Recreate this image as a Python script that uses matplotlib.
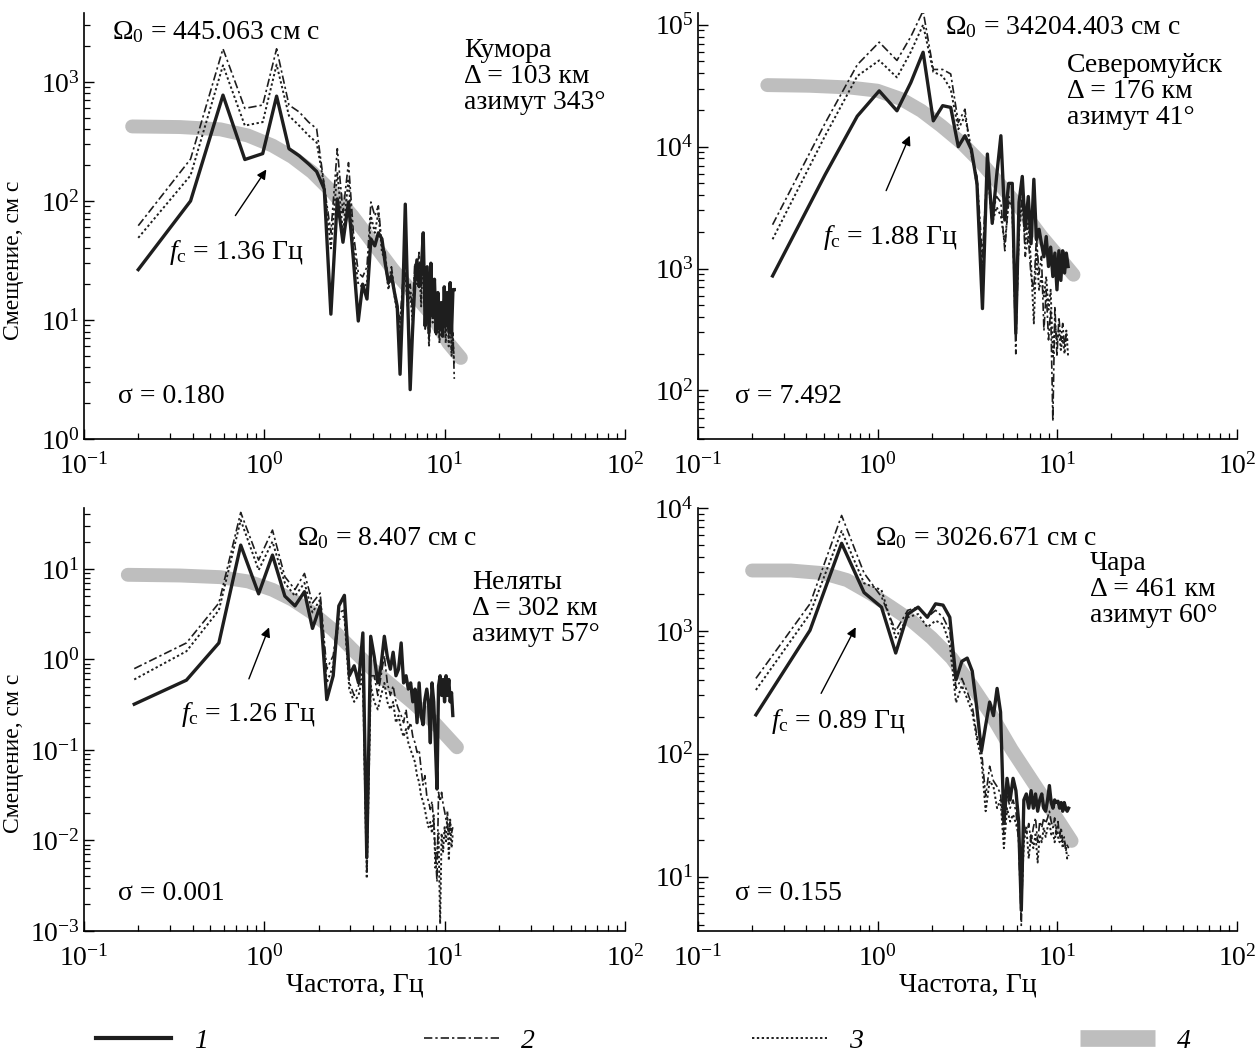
# спектры смещения для четырёх станций + модельная кривая
import matplotlib.pyplot as plt
from matplotlib.lines import Line2D

plt.rcParams['font.family'] = ['Liberation Serif', 'DejaVu Serif']
plt.rcParams['mathtext.fontset'] = 'custom'
plt.rcParams['mathtext.rm'] = 'Liberation Serif'
plt.rcParams['mathtext.it'] = 'Liberation Serif:italic'
plt.rcParams['mathtext.bf'] = 'Liberation Serif:bold'

# ---------- Кумора ----------
freq_kum = [0.20, 0.39, 0.59, 0.78, 0.98, 1.17, 1.37, 1.56, 1.76, 1.95,
            2.15, 2.34, 2.54, 2.73, 2.93, 3.12, 3.32, 3.51, 3.71, 3.90,
            4.10, 4.29, 4.49, 4.68, 4.88, 5.07, 5.27, 5.46, 5.66, 5.85,
            6.05, 6.24, 6.44, 6.63, 6.83, 7.02, 7.22, 7.41, 7.61, 7.80,
            8.00, 8.19, 8.39, 8.58, 8.78, 8.97, 9.17, 9.36, 9.56, 9.75,
            9.95, 10.14, 10.34, 10.53, 10.73, 10.92, 11.12, 11.31]
kum_1 = [26.5, 100, 775, 223, 250, 760, 275, 240, 205, 177,
         126, 11.2, 104, 45, 98, 32, 9.8, 20, 15, 48,
         42, 54, 48, 30, 20.6, 23.6, 17, 13, 3.5, 14,
         94, 15, 2.6, 7.8, 20, 32, 19, 25, 54, 8.9,
         28, 7.8, 30, 10.8, 22, 7.8, 17, 8.4, 14, 7.3,
         19, 8.9, 17, 8.4, 20.6, 7.8, 18, 18]
kum_2 = [62, 225, 1900, 600, 640, 1900, 640, 560, 460, 405,
         134, 54, 275, 80, 210, 54, 25, 23, 28, 98,
         75, 91, 42, 37, 20, 28, 18, 13, 10, 20,
         32, 15, 20, 12, 30, 25, 37, 15, 54, 10.8,
         23, 6.9, 20, 11.5, 17, 8.9, 15, 7.3, 13, 9.5,
         15, 7.8, 17, 6.9, 15, 5.6, 7.8, 3.2]
kum_3 = [49, 164, 1380, 430, 460, 1400, 520, 430, 355, 310,
         134, 40, 175, 54, 154, 40, 20, 19, 20, 75,
         54, 80, 37, 32, 18, 25, 16, 11.5, 8.4, 17,
         25, 13, 17, 10, 25, 20, 30, 13, 42, 8.4,
         19, 6, 17, 9.5, 15, 7.3, 13, 6.4, 10.8, 7.8,
         13, 6.4, 15, 6, 12, 5, 6.9, 4.1]
kum_model_f = [0.185, 0.34, 0.57, 0.81, 1.11, 1.43, 1.84, 2.39, 3.08, 3.98,
               5.14, 6.64, 8.58, 10.5, 12.3]
kum_model = [423, 418, 400, 355, 292, 234, 175, 118, 75, 45,
             26.8, 17, 10.8, 6.4, 4.8]

# ---------- Северомуйск ----------
freq_sev = [0.26, 0.51, 0.77, 1.02, 1.28, 1.53, 1.79, 2.04, 2.30, 2.55,
            2.81, 3.06, 3.32, 3.57, 3.83, 4.08, 4.34, 4.59, 4.85, 5.10,
            5.36, 5.61, 5.87, 6.12, 6.38, 6.63, 6.89, 7.14, 7.40, 7.65,
            7.91, 8.16, 8.42, 8.67, 8.93, 9.18, 9.44, 9.69, 9.95, 10.20,
            10.46, 10.71, 10.97, 11.22, 11.48]
sev_1 = [870, 5900, 17800, 28700, 19700, 33600, 59500, 16300, 21700, 21000,
         10000, 12300, 9500, 5000, 470, 8700, 2350, 5700, 12300, 2500,
         5000, 5000, 295, 3500, 5700, 2100, 3900, 1600, 5400, 1730,
         2100, 1600, 1250, 1830, 1040, 1500, 860, 1340, 670, 1400,
         800, 1400, 920, 1340, 1040]
sev_2 = [2290, 15600, 47000, 72000, 51000, 80000, 130000, 43000, 43000, 39500,
         15800, 20300, 8400, 5700, 1260, 7400, 2700, 3900, 3500, 1400,
         3900, 3500, 200, 2350, 3900, 1260, 1830, 860, 670, 1830,
         900, 1260, 310, 670, 260, 460, 56, 490, 190, 400,
         260, 355, 230, 290, 245]
sev_3 = [1740, 12300, 38000, 51000, 37000, 60000, 100000, 41000, 38000, 29500,
         13900, 17900, 9500, 4700, 910, 6500, 2350, 3200, 2700, 1600,
         3600, 3200, 355, 2000, 3600, 1600, 2350, 1100, 355, 1430,
         670, 860, 590, 860, 460, 670, 190, 355, 260, 310,
         215, 275, 200, 310, 190]
sev_model_f = [0.243, 0.417, 0.695, 0.995, 1.35, 1.75, 2.26, 2.92, 3.77, 4.88,
               6.3, 8.15, 10.5, 12.3]
sev_model = [32000, 31600, 30600, 28800, 24600, 19700, 14800, 10800, 7380, 4740,
             3050, 1840, 1180, 890]

# ---------- Неляты ----------
freq_nel = [0.19, 0.37, 0.56, 0.74, 0.93, 1.11, 1.30, 1.48, 1.67, 1.85,
            2.04, 2.22, 2.41, 2.59, 2.78, 2.96, 3.15, 3.33, 3.52, 3.70,
            3.89, 4.07, 4.26, 4.44, 4.63, 4.81, 5.00, 5.18, 5.37, 5.55,
            5.74, 5.92, 6.11, 6.29, 6.48, 6.66, 6.85, 7.03, 7.22, 7.40,
            7.59, 7.77, 7.96, 8.14, 8.33, 8.51, 8.70, 8.88, 9.07, 9.25,
            9.44, 9.62, 9.81, 9.99, 10.18, 10.36, 10.55, 10.73, 10.92, 11.10]
nel_1 = [0.32, 0.59, 1.52, 18.3, 5.3, 14.2, 5.0, 3.9, 5.6, 2.2,
         3.9, 0.36, 0.66, 3.9, 5.1, 0.66, 0.85, 0.55, 1.96, 0.0065,
         1.8, 1.07, 0.55, 0.85, 1.8, 1.07, 0.78, 1.2, 0.66, 0.78,
         1.52, 0.55, 0.66, 0.47, 0.55, 0.34, 0.47, 0.2, 0.55, 0.24,
         0.19, 0.36, 0.47, 0.34, 0.12, 0.55, 0.34, 0.12, 0.037, 0.51,
         0.66, 0.4, 0.6, 0.34, 0.66, 0.4, 0.6, 0.34, 0.43, 0.24]
nel_2 = [0.79, 1.52, 4.2, 42, 12.5, 26.8, 8.2, 5.9, 8.9, 4.2,
         5.4, 0.78, 1.1, 3.3, 3.5, 0.56, 0.4, 0.51, 0.78, 0.0045,
         0.66, 0.66, 0.4, 0.66, 1.1, 0.55, 0.4, 0.51, 0.34, 0.28,
         0.24, 0.2, 0.28, 0.17, 0.2, 0.14, 0.12, 0.094, 0.1, 0.062,
         0.041, 0.052, 0.031, 0.027, 0.022, 0.027, 0.016, 0.0075, 0.0035, 0.034,
         0.027, 0.034, 0.025, 0.021, 0.017, 0.015, 0.012, 0.016, 0.012, 0.014]
nel_3 = [0.60, 1.23, 3.5, 34.6, 9.7, 20, 7.0, 5.0, 7.0, 3.3,
         4.6, 0.55, 0.85, 2.75, 3.0, 0.47, 0.34, 0.4, 0.66, 0.0038,
         0.51, 0.34, 0.28, 0.4, 0.55, 0.34, 0.28, 0.34, 0.2, 0.24,
         0.17, 0.14, 0.17, 0.12, 0.1, 0.086, 0.073, 0.052, 0.044, 0.031,
         0.027, 0.022, 0.017, 0.014, 0.016, 0.012, 0.019, 0.005, 0.0075, 0.012,
         0.0012, 0.012, 0.0075, 0.014, 0.0098, 0.021, 0.006, 0.017, 0.0083, 0.012]
nel_model_f = [0.175, 0.341, 0.57, 0.815, 1.11, 1.43, 1.85, 2.39, 3.08, 3.98,
               5.14, 6.64, 8.58, 11.7]
nel_model = [8.6, 8.45, 8.1, 7.26, 5.87, 4.57, 3.26, 2.14, 1.29, 0.776,
             0.51, 0.334, 0.21, 0.107]

# ---------- Чара ----------
freq_cha = [0.21, 0.42, 0.63, 0.84, 1.05, 1.26, 1.47, 1.68, 1.89, 2.10,
            2.31, 2.52, 2.73, 2.94, 3.15, 3.36, 3.57, 3.78, 3.99, 4.20,
            4.41, 4.62, 4.83, 5.04, 5.25, 5.46, 5.67, 5.88, 6.09, 6.30,
            6.51, 6.72, 6.93, 7.14, 7.35, 7.56, 7.77, 7.98, 8.19, 8.40,
            8.61, 8.82, 9.03, 9.24, 9.45, 9.66, 9.87, 10.08, 10.29, 10.50,
            10.71, 10.92, 11.13, 11.34, 11.55]
cha_1 = [207, 1010, 5160, 2050, 1560, 660, 1370, 1560, 1290, 1660,
         1620, 1290, 400, 565, 600, 470, 230, 105, 170, 263,
         204, 340, 218, 27, 63, 42, 63, 50, 28, 5.3,
         42, 47, 36, 50, 36, 47, 34, 42, 47, 36,
         34, 42, 55, 40, 36, 42, 40, 41, 36, 40,
         34, 40, 36, 34, 36]
cha_2 = [410, 1660, 8700, 2950, 1890, 1000, 1470, 1560, 1290, 1470,
         1290, 1000, 340, 410, 320, 245, 138, 108, 45, 79,
         60, 54, 47, 22, 47, 36, 42, 34, 19, 4.0,
         27, 22, 27, 19, 25, 30, 19, 28, 25, 30,
         27, 30, 34, 28, 25, 30, 22, 28, 21, 25,
         19, 21, 16, 18, 17]
cha_3 = [330, 1380, 6500, 2440, 2150, 880, 1290, 1370, 1070, 1210,
         1130, 775, 260, 360, 280, 218, 130, 89, 34, 60,
         54, 36, 42, 17, 36, 28, 32, 27, 22, 6,
         19, 25, 14, 22, 17, 22, 13, 22, 19, 25,
         21, 25, 28, 22, 23, 19, 25, 21, 19, 22,
         17, 19, 18, 14, 15]
cha_model_f = [0.2, 0.328, 0.496, 0.675, 0.92, 1.19, 1.54, 1.99, 2.58, 3.33,
               4.31, 5.57, 7.2, 9.3, 12.0]
cha_model = [3100, 3100, 2950, 2590, 2000, 1560, 1210, 880, 600, 360,
             205, 108, 61, 34.6, 19.5]

# подписи
omega_labels = ['445.063', '34204.403', '8.407', '3026.671']
fc_labels = ['1.36', '1.88', '1.26', '0.89']
sigma_labels = ['0.180', '7.492', '0.001', '0.155']
stations = ['Кумора', 'Северомуйск', 'Неляты', 'Чара']
distances = ['103', '176', '302', '461']
azimuths = ['343', '41', '57', '60']

fig = plt.figure(figsize=(12.57, 10.54), dpi=100)

# положение осей на рисунке
positions = [[0.0668, 0.5835, 0.4304, 0.4042],
             [0.5553, 0.5835, 0.4288, 0.4042],
             [0.0668, 0.1167, 0.4304, 0.4013],
             [0.5553, 0.1167, 0.4288, 0.4013]]
ylims = [(1, 3800), (40, 1.25e5), (1e-3, 47), (3.6, 1e4)]

# где стоят подписи (доли осей)
omega_xy = [(0.052, 0.955), (0.458, 0.967), (0.394, 0.928), (0.328, 0.928)]
station_xy = [(0.702, 0.85), (0.685, 0.815), (0.717, 0.763), (0.727, 0.808)]
sigma_xy = [(0.063, 0.099), (0.069, 0.099), (0.063, 0.088), (0.069, 0.088)]
fc_xy = [(0.157, 0.437), (0.232, 0.474), (0.179, 0.511), (0.135, 0.496)]
arrow_head = [(0.34, 0.638), (0.395, 0.718), (0.344, 0.724), (0.295, 0.724)]
arrow_tail = [(0.277, 0.519), (0.347, 0.577), (0.303, 0.59), (0.226, 0.556)]

panels = [
    (freq_kum, kum_1, kum_2, kum_3, kum_model_f, kum_model),
    (freq_sev, sev_1, sev_2, sev_3, sev_model_f, sev_model),
    (freq_nel, nel_1, nel_2, nel_3, nel_model_f, nel_model),
    (freq_cha, cha_1, cha_2, cha_3, cha_model_f, cha_model),
]

black = '#1e1e1e'
grey = '#bebebe'

for i, (f, s1, s2, s3, mf, mv) in enumerate(panels):
    ax = fig.add_axes(positions[i])
    ax.set_xscale('log')
    ax.set_yscale('log')

    ax.plot(mf, mv, color=grey, lw=10, solid_capstyle='round', solid_joinstyle='round', zorder=1)
    ax.plot(f, s3, color=black, lw=1.4, linestyle=(0, (1.2, 1.3)), zorder=2)
    ax.plot(f, s2, color=black, lw=1.2, linestyle=(0, (5, 1.8, 1.4, 1.8)), zorder=3)
    ax.plot(f, s1, color=black, lw=2.4, zorder=4)

    ax.set_xlim(0.1, 100)
    ax.set_ylim(*ylims[i])

    for side in ['top', 'right']:
        ax.spines[side].set_visible(False)
    for side in ['left', 'bottom']:
        ax.spines[side].set_linewidth(1.2)
    ax.tick_params(which='major', direction='in', length=7, width=1, labelsize=20)
    ax.tick_params(axis='x', which='major', pad=10)
    ax.tick_params(axis='y', which='major', pad=3)
    ax.tick_params(which='minor', direction='in', length=4, width=0.9)

    if i % 2 == 0:
        ax.set_ylabel('Смещение, см с', fontsize=17)
        ax.yaxis.set_label_coords(-0.11, 0.42)
    if i >= 2:
        ax.set_xlabel('Частота, Гц', fontsize=20, labelpad=1)

    ax.text(*omega_xy[i], 'Ω$_0$ = ' + omega_labels[i] + ' см с', transform=ax.transAxes,
            fontsize=20, ha='left', va='center')
    ax.text(*station_xy[i], stations[i] + '\nΔ = ' + distances[i] + ' км\nазимут ' + azimuths[i] + '°',
            transform=ax.transAxes, fontsize=20, ha='left', va='center', linespacing=1.05)
    ax.text(*sigma_xy[i], 'σ = ' + sigma_labels[i], transform=ax.transAxes,
            fontsize=20, ha='left', va='center')
    ax.text(*fc_xy[i], r'$f_{\rm c}$ = ' + fc_labels[i] + ' Гц', transform=ax.transAxes,
            fontsize=20, ha='left', va='center')
    ax.annotate('', xy=arrow_head[i], xytext=arrow_tail[i], xycoords='axes fraction',
                arrowprops=dict(arrowstyle='-|>', lw=1, color='black', mutation_scale=14))

# общая легенда внизу
handles = [Line2D([], [], color=black, lw=3),
           Line2D([], [], color=black, lw=1.2, linestyle=(0, (5, 1.8, 1.4, 1.8))),
           Line2D([], [], color=black, lw=1.4, linestyle=(0, (1.2, 1.3))),
           Line2D([], [], color=grey, lw=12, solid_capstyle='butt')]
fig.legend(handles, ['1', '2', '3', '4'], loc='center', bbox_to_anchor=(0.512, 0.012),
           ncol=4, frameon=False, handlelength=2.7, handletextpad=0.8, columnspacing=7.8,
           prop={'family': 'Liberation Serif', 'style': 'italic', 'size': 20})

fig.savefig('out.png', dpi=100)
